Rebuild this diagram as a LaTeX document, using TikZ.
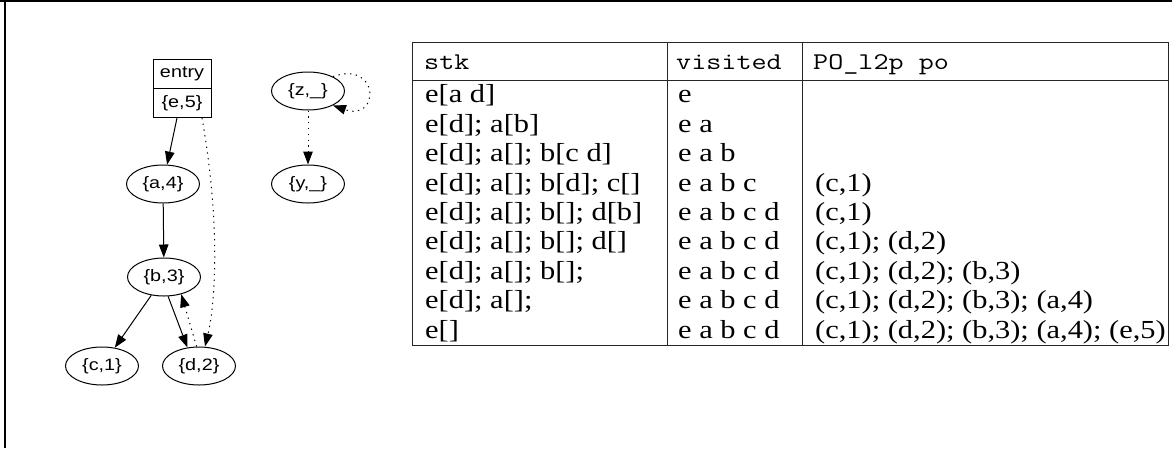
\documentclass[tikz,border=0pt]{standalone}
\usepackage{fontspec}
\usepackage{graphicx}
\setmainfont{Liberation Serif}
\newfontfamily\gvfont{Liberation Sans}
\newcommand{\hstretch}[1]{\scalebox{1.2}[1]{#1}}
\newcommand{\tstretch}[1]{\scalebox{1.17}[1]{#1}}
\newcommand{\mstretch}[1]{\scalebox{1.22}[1]{#1}}
\usetikzlibrary{arrows.meta,shapes.geometric}
\begin{document}
\begin{tikzpicture}[x=1pt,y=-1pt,
  gv/.style={ellipse,draw,line width=1pt,minimum width=73pt,minimum height=38pt,inner sep=0pt,font=\gvfont\fontsize{16.5}{19}\selectfont},
  rec/.style={rectangle,draw,line width=1pt,minimum width=58pt,minimum height=29pt,inner sep=0pt,font=\gvfont\fontsize{16.5}{19}\selectfont},
  edge/.style={line width=1pt,-{Triangle[length=13pt,width=9.5pt]}},
  dedge/.style={edge,dash pattern=on 1.3pt off 4.5pt},
  tl/.style={line width=1pt,black!85},
  cell/.style={anchor=base west,inner sep=0pt,font=\fontsize{26}{30}\selectfont},
  hcell/.style={anchor=base west,inner sep=0pt,font=\ttfamily\fontsize{24}{28}\selectfont}]
\useasboundingbox (0,0) rectangle (1172,448);
% frame
\draw[line width=1.5pt] (0,0.75) -- (1172,0.75);
\draw[line width=1.2pt] (5,0) -- (5,448);
% graph
\node[rec] (entryhead) at (182,74) {\hstretch{entry}};
\node[rec] (entry) at (182,103) {\hstretch{\{e,5\}}};
\node[gv] (z) at (308,91) {\hstretch{\{z,\_\}}};
\node[gv] (y) at (308,184) {\hstretch{\{y,\_\}}};
\node[gv] (a) at (163,184) {\hstretch{\{a,4\}}};
\node[gv] (b) at (164,277) {\hstretch{\{b,3\}}};
\node[gv] (c) at (102,366) {\hstretch{\{c,1\}}};
\node[gv] (d) at (199,366) {\hstretch{\{d,2\}}};
\draw[edge] ([xshift=-5pt]entry.south) -- (a);
\draw[edge] (a) -- (b);
\draw[edge] (b) -- (c);
\draw[edge] (b.-78) -- (d.122);
\draw[dedge] (d.97) -- (b.-45);
\draw[dedge] ([xshift=20pt]entry.south) .. controls (220,220) and (216,300) .. ([xshift=6pt]d.north);
\draw[dedge] (z.30) .. controls (380,60) and (380,122) .. (z.-30);
\draw[dedge] (z) -- (y);
% table
\draw[tl] (412,42) rectangle (1168,345);
\draw[tl] (667,42) -- (667,345);
\draw[tl] (802,42) -- (802,345);
\draw[tl] (412,80) -- (1168,80);
\node[hcell] (h1) at (424,69) {\mstretch{stk}};
\node[hcell] (h2) at (676,69) {\mstretch{visited}};
\node[hcell] (h3) at (813,69) {\mstretch{PO\_l2p po}};
\foreach \i/\s/\v/\p in {
  1/{e[a d]}/{e}/{},
  2/{e[d]; a[b]}/{e a}/{},
  3/{e[d]; a[]; b[c d]}/{e a b}/{},
  4/{e[d]; a[]; b[d]; c[]}/{e a b c}/{(c,1)},
  5/{e[d]; a[]; b[]; d[b]}/{e a b c d}/{(c,1)},
  6/{e[d]; a[]; b[]; d[]}/{e a b c d}/{(c,1); (d,2)},
  7/{e[d]; a[]; b[];}/{e a b c d}/{(c,1); (d,2); (b,3)},
  8/{e[d]; a[];}/{e a b c d}/{(c,1); (d,2); (b,3); (a,4)},
  9/{e[]}/{e a b c d}/{(c,1); (d,2); (b,3); (a,4); (e,5)}} {
  \pgfmathsetmacro{\yb}{80+29.44*(\i-0.5)+8}
  \node[cell] (s\i) at (425,\yb) {\tstretch{\s}};
  \node[cell] (v\i) at (678,\yb) {\tstretch{\v}};
  \node[cell] (p\i) at (815,\yb) {\tstretch{\p}};
}
\end{tikzpicture}
\end{document}
